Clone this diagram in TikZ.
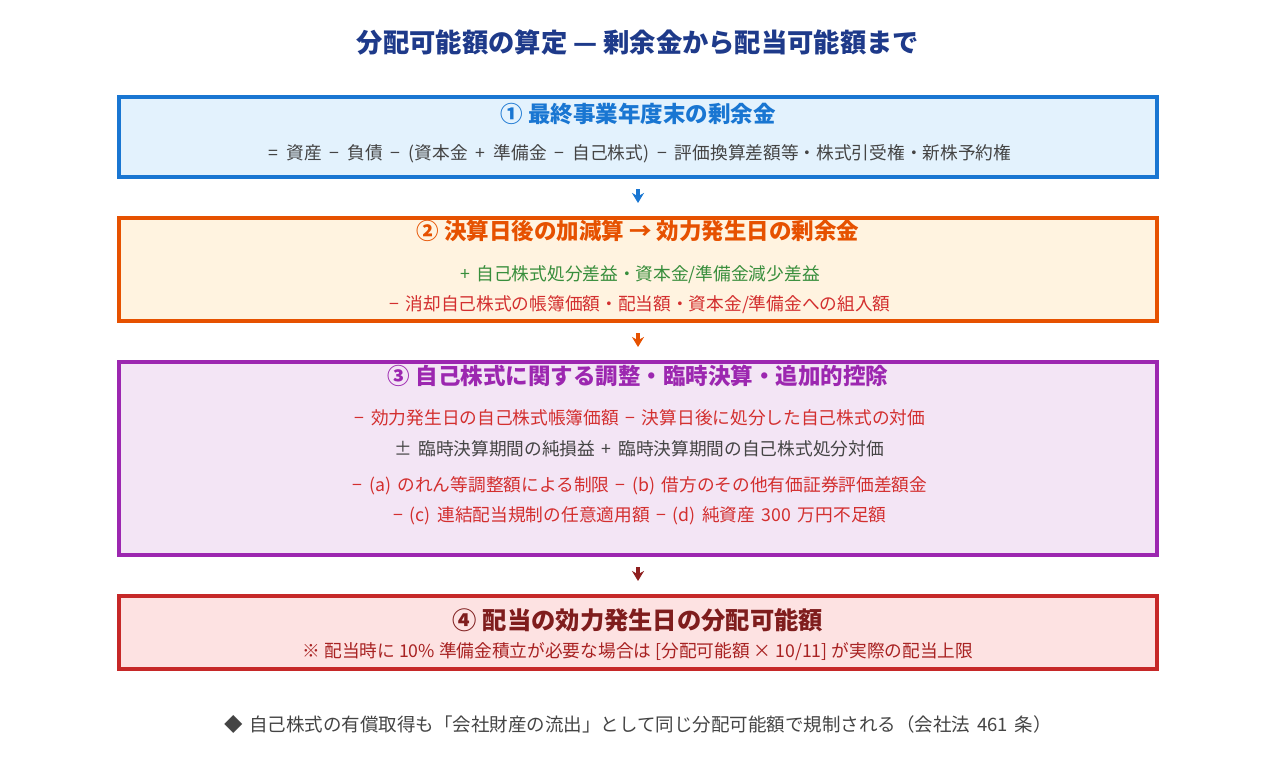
\documentclass[tikz,border=0pt]{standalone}
\usepackage{fontspec}
\setmainfont{Noto Sans CJK JP}
\usetikzlibrary{arrows.meta,positioning}
\definecolor{titleblue}{HTML}{1E3A8A}
\definecolor{ink}{HTML}{444444}
\definecolor{blueline}{HTML}{1976D2}
\definecolor{bluefill}{HTML}{E3F2FD}
\definecolor{orangeline}{HTML}{E65100}
\definecolor{orangefill}{HTML}{FFF3E0}
\definecolor{purpleline}{HTML}{9C27B0}
\definecolor{purplefill}{HTML}{F3E5F5}
\definecolor{redline}{HTML}{C62828}
\definecolor{redfill}{HTML}{FDE2E2}
\definecolor{darkred}{HTML}{7F1D1D}
\definecolor{arrowred}{HTML}{8E1F1F}
\definecolor{plusgreen}{HTML}{388E3C}
\definecolor{minusred}{HTML}{D32F2F}
\newcommand{\widesp}[1]{\spaceskip=#1em\relax}

\begin{document}
\begin{tikzpicture}[x=1pt,y=-1pt,>={Stealth[length=10pt,width=12pt]},semithick]
			\tikzstyle{box}=[draw,line width=4pt,minimum width=1038pt,inner sep=0pt]
			\tikzstyle{head}=[font=\fontsize{22.5}{26}\selectfont\bfseries]
			\tikzstyle{txt}=[font=\fontsize{17.7}{21}\selectfont\widesp{0.37}]
			\tikzstyle{flow}=[->,line width=3.5pt,shorten <=10pt,shorten >=13pt]
			\useasboundingbox (0,0) rectangle (1275,782);
			\node[font=\fontsize{26.3}{31}\selectfont\bfseries,text=titleblue] (T) at (638,42) {分配可能額の算定 — 剰余金から配当可能額まで};
			% boxes
			\node[box,draw=blueline,fill=bluefill,minimum height=80pt]     (A) at (638,137)   {};
			\node[box,draw=orangeline,fill=orangefill,minimum height=103pt] (B) at (638,269.5) {};
			\node[box,draw=purpleline,fill=purplefill,minimum height=193pt] (C) at (638,458.5) {};
			\node[box,draw=redline,fill=redfill,minimum height=73pt]       (D) at (638,632.5) {};
			% texts
			\node[head,text=blueline]   (At)  at (638,114) {① 最終事業年度末の剰余金};
			\node[txt,text=ink,font=\fontsize{17.7}{21}\selectfont\widesp{0.45}] (Al) at (640,154) {= 資産 − 負債 − (資本金 + 準備金 − 自己株式) − 評価換算差額等・株式引受権・新株予約権};
			\node[head,text=orangeline] (Bt)  at (638,231) {② 決算日後の加減算 → 効力発生日の剰余金};
			\node[txt,text=plusgreen]   (Bl1) at (640,275) {+ 自己株式処分差益・資本金/準備金減少差益};
			\node[txt,text=minusred]    (Bl2) at (640,305) {− 消却自己株式の帳簿価額・配当額・資本金/準備金への組入額};
			\node[head,text=purpleline] (Ct)  at (638,376) {③ 自己株式に関する調整・臨時決算・追加的控除};
			\node[txt,text=minusred]    (Cl1) at (640,418) {− 効力発生日の自己株式帳簿価額 − 決算日後に処分した自己株式の対価};
			\node[txt,text=ink]         (Cl2) at (639,449) {± 臨時決算期間の純損益 + 臨時決算期間の自己株式処分対価};
			\node[txt,text=minusred]    (Cl3) at (640,486) {− (a) のれん等調整額による制限 − (b) 借方のその他有価証券評価差額金};
			\node[txt,text=minusred]    (Cl4) at (640,516) {− (c) 連結配当規制の任意適用額 − (d) 純資産 300 万円不足額};
			\node[font=\fontsize{24.3}{28}\selectfont\bfseries,text=darkred] (Dt) at (638,620) {④ 配当の効力発生日の分配可能額};
			\node[txt,text=redline!85!black,font=\fontsize{17.7}{21}\selectfont] (Dl) at (638,652) {※ 配当時に 10\% 準備金積立が必要な場合は [分配可能額 × 10/11] が実際の配当上限};
			\node[txt,text=ink,font=\fontsize{18.5}{22}\selectfont\widesp{0.37}] (F) at (638,724) {◆ 自己株式の有償取得も「会社財産の流出」として同じ分配可能額で規制される（会社法 461 条）};
			\path
			(A) edge[flow,blueline] (B)
			(B) edge[flow,orangeline] (C)
			(C) edge[flow,arrowred] (D);
\end{tikzpicture}
\end{document}
